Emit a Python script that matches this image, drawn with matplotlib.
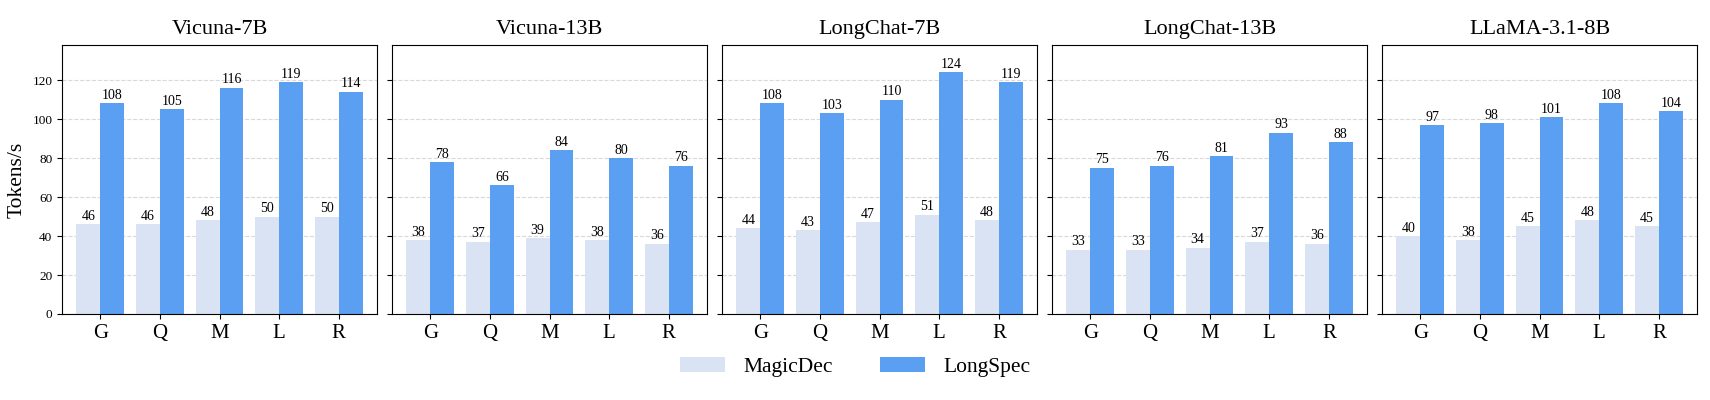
import numpy as np
import matplotlib
matplotlib.use('Agg')
from matplotlib import pyplot as plt

plt.rcParams['font.family'] = ['Liberation Serif', 'DejaVu Serif']

models = ['Vicuna-7B', 'Vicuna-13B', 'LongChat-7B', 'LongChat-13B', 'LLaMA-3.1-8B']
tasks = ['G', 'Q', 'M', 'L', 'R']

# tokens/s for each model, in task order
magicdec = [
    [46, 46, 48, 50, 50],
    [38, 37, 39, 38, 36],
    [44, 43, 47, 51, 48],
    [33, 33, 34, 37, 36],
    [40, 38, 45, 48, 45],
]
longspec = [
    [108, 105, 116, 119, 114],
    [78, 66, 84, 80, 76],
    [108, 103, 110, 124, 119],
    [75, 76, 81, 93, 88],
    [97, 98, 101, 108, 104],
]

c_magic = '#dae3f3'
c_long = '#5b9ff2'
w = 0.4
x = np.arange(len(tasks))

fig, axes = plt.subplots(1, 5, figsize=(17.1, 4), dpi=100, sharey=True)
plt.subplots_adjust(left=0.0363, right=0.9924, top=0.8875, bottom=0.215, wspace=0.048)

for i, ax in enumerate(axes):
    b1 = ax.bar(x - w/2, magicdec[i], w, color=c_magic, label='MagicDec', zorder=2)
    b2 = ax.bar(x + w/2, longspec[i], w, color=c_long, label='LongSpec', zorder=2)
    for bars in (b1, b2):
        for b in bars:
            ax.annotate('%d' % b.get_height(), (b.get_x() + b.get_width()/2, b.get_height()),
                        xytext=(0, 1), textcoords='offset points',
                        ha='center', va='bottom', fontsize=10)
    ax.set_title(models[i], fontsize=16, pad=8)
    ax.set_xticks(x)
    ax.set_xticklabels(tasks, fontsize=15)
    ax.set_ylim(0, 138)
    ax.set_yticks(range(0, 121, 20))
    ax.tick_params(axis='y', labelsize=9.5)
    ax.grid(axis='y', linestyle='--', color='#d9d9d9', linewidth=0.8, zorder=0)
    ax.set_axisbelow(True)

axes[0].set_ylabel('Tokens/s', fontsize=15.5)

handles, labels = axes[0].get_legend_handles_labels()
fig.legend(handles, labels, loc='center', bbox_to_anchor=(0.5, 0.0825), ncol=2,
           frameon=False, fontsize=15.5, handlelength=2.1, handleheight=0.7,
           handletextpad=0.85, columnspacing=2.2)

plt.savefig('out.png')
